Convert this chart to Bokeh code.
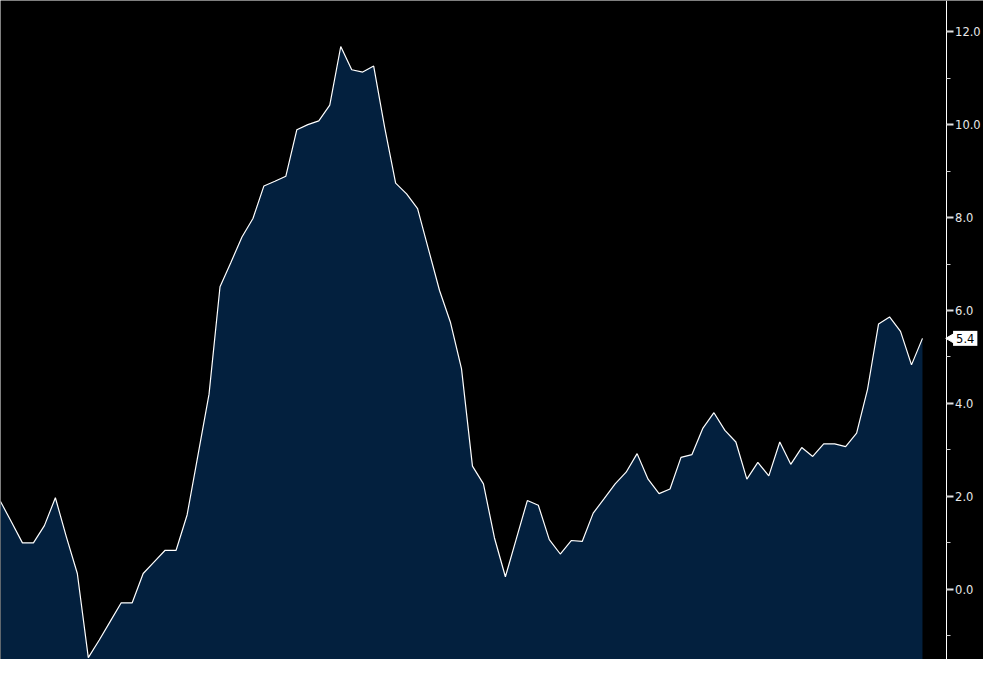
import math
from bokeh.plotting import figure
from bokeh.models import Range1d, Label, SingleIntervalTicker, NumeralTickFormatter
from bokeh.embed import file_html
from bokeh.resources import INLINE

# series values (index-based periods, oldest first)
values = [1.89, 1.45, 1.00, 1.00, 1.37, 1.97, 1.13, 0.34, -1.47, -1.09,
          -0.69, -0.29, -0.29, 0.34, 0.59, 0.84, 0.84, 1.60, 2.90, 4.20,
          6.51, 7.04, 7.58, 7.98, 8.68, 8.78, 8.89, 9.89, 10.00, 10.08,
          10.42, 11.68, 11.18, 11.13, 11.26, 9.94, 8.74, 8.51, 8.19, 7.31,
          6.43, 5.74, 4.75, 2.65, 2.27, 1.11, 0.27, 1.09, 1.91, 1.81,
          1.07, 0.76, 1.05, 1.03, 1.64, 1.95, 2.27, 2.52, 2.92, 2.37,
          2.06, 2.16, 2.84, 2.90, 3.47, 3.80, 3.42, 3.17, 2.37, 2.73,
          2.44, 3.17, 2.69, 3.05, 2.86, 3.13, 3.13, 3.07, 3.36, 4.31,
          5.71, 5.86, 5.55, 4.83, 5.40]
periods = list(range(len(values)))

y_min, y_max = -1.51, 12.67
x_min, x_max = 0.0, 89.56
axis_x = 86.15          # where the value axis sits (right of the last period)

W, H = 983, 659
px_per_x = W / (x_max - x_min)

p = figure(width=W, height=H,
           output_backend="svg", toolbar_location=None,
           x_range=Range1d(x_min, x_max), y_range=Range1d(y_min, y_max),
           x_axis_location=None, y_axis_location="right",
           background_fill_color="#000000", border_fill_color="#000000",
           min_border_left=0, min_border_top=0, min_border_bottom=0,
           min_border_right=0)
p.outline_line_color = None
p.grid.visible = False

p.varea(x=periods, y1=[y_min] * len(values), y2=values, fill_color="#03203e")
p.line(x=periods, y=values, line_color="#ffffff", line_width=1.2)

ax = p.yaxis[0]
ax.fixed_location = axis_x
ax.ticker = SingleIntervalTicker(interval=2, num_minor_ticks=2)
ax.formatter = NumeralTickFormatter(format="0.0")
ax.axis_line_color = "#ffffff"
ax.axis_line_width = 1
ax.major_tick_line_color = "#e6e6e6"
ax.major_tick_line_width = 2
ax.major_tick_in = 0
ax.major_tick_out = 7
ax.minor_tick_line_color = "#d0d0d0"
ax.minor_tick_in = 0
ax.minor_tick_out = 4
ax.major_label_text_color = "#e8e8e8"
ax.major_label_text_font = "DejaVu Sans"
ax.major_label_text_font_size = "11.5px"
ax.major_label_standoff = 2

# last-value tag
p.scatter(x=[axis_x + 6 / px_per_x], y=[values[-1]], marker="triangle",
          size=11, angle=math.pi / 2, fill_color="#ffffff", line_color="#ffffff")
last = Label(x=axis_x, y=values[-1], x_offset=7,
             text=f"{values[-1]:.1f}", text_color="#000000",
             text_font="DejaVu Sans", text_font_size="11.5px",
             text_baseline="middle", text_align="left",
             background_fill_color="#ffffff", padding=3)
p.add_layout(last)

open("out.html", "w").write(file_html(p, INLINE))
